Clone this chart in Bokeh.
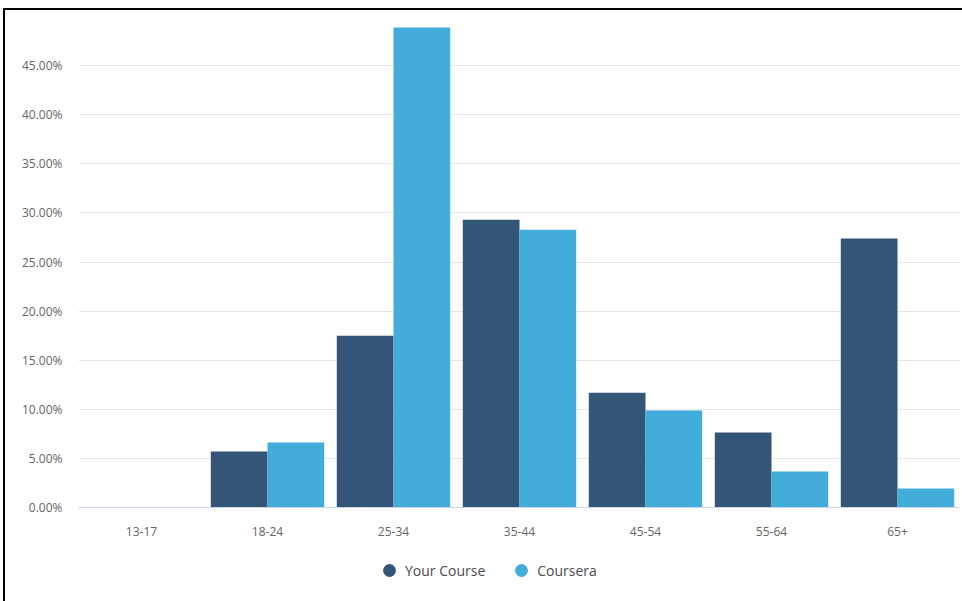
from bokeh.plotting import figure
from bokeh.layouts import column
from bokeh.models import ColumnDataSource, FactorRange, Range1d, FixedTicker, PrintfTickFormatter, Legend, LegendItem
from bokeh.transform import dodge
from bokeh.embed import file_html
from bokeh.resources import INLINE

categories = ["13-17", "18-24", "25-34", "35-44", "45-54", "55-64", "65+"]
your_course = [0.0, 5.7, 17.5, 29.3, 11.7, 7.64, 27.4]
coursera = [0.0, 6.62, 48.9, 28.3, 9.88, 3.67, 1.93]
y_ticks = [0, 5, 10, 15, 20, 25, 30, 35, 40, 45]
series_names = ["Your Course", "Coursera"]
colors = ["#335577", "#42addb"]

src = ColumnDataSource(dict(cat=categories, yc=your_course, cs=coursera))

p = figure(x_range=FactorRange(*categories, range_padding=0), y_range=Range1d(0, 49.5),
           width=957, height=535, output_backend="svg", toolbar_location=None,
           min_border_left=73, min_border_right=2, min_border_top=11, min_border_bottom=38)

p.vbar(x=dodge("cat", -0.225, range=p.x_range), top="yc", width=0.45, source=src,
       fill_color=colors[0], line_color=None)
p.vbar(x=dodge("cat", 0.225, range=p.x_range), top="cs", width=0.45, source=src,
       fill_color=colors[1], line_color=None)

p.outline_line_color = None
p.background_fill_color = "white"
p.border_fill_color = "white"

p.xgrid.grid_line_color = None
p.ygrid.grid_line_color = "#e6e6e6"
p.ygrid.ticker = FixedTicker(ticks=y_ticks)

p.yaxis.ticker = FixedTicker(ticks=y_ticks)
p.yaxis.formatter = PrintfTickFormatter(format="%.2f%%")
p.yaxis.axis_line_color = None
p.yaxis.major_tick_line_color = None
p.yaxis.minor_tick_line_color = None
p.yaxis.major_label_standoff = 10

p.xaxis.axis_line_color = "#ccd6eb"
p.xaxis.major_tick_line_color = None
p.xaxis.minor_tick_line_color = None
p.xaxis.major_label_standoff = 13

for ax in (p.xaxis, p.yaxis):
    ax.major_label_text_font = "Open Sans"
    ax.major_label_text_font_size = "12px"
    ax.major_label_text_color = "#666666"

# legend strip below the chart
lg = figure(width=957, height=56, x_range=Range1d(0, 1), y_range=Range1d(0, 1),
            output_backend="svg", toolbar_location=None,
            min_border_left=0, min_border_right=0, min_border_top=0, min_border_bottom=0)
lg.axis.visible = False
lg.grid.visible = False
lg.outline_line_color = None
lg.background_fill_color = "white"
lg.border_fill_color = "white"

nan = float("nan")
d1 = lg.scatter(x=[nan], y=[nan], marker="circle", size=13, fill_color=colors[0], line_color=None)
d2 = lg.scatter(x=[nan], y=[nan], marker="circle", size=13, fill_color=colors[1], line_color=None)

legend = Legend(items=[LegendItem(label=series_names[0], renderers=[d1]),
                       LegendItem(label=series_names[1], renderers=[d2])],
                orientation="horizontal", location=(295, 15))
legend.label_text_font = "Open Sans"
legend.label_text_font_size = "14px"
legend.label_text_color = "#4d4d4d"
legend.border_line_color = None
legend.background_fill_alpha = 0
legend.glyph_width = 32
legend.glyph_height = 32
legend.spacing = 20
legend.label_standoff = 0
legend.padding = 0
legend.margin = 0
lg.add_layout(legend)

layout = column(p, lg, spacing=0,
                styles={"border-top": "2px solid black", "border-left": "2px solid black",
                        "margin-top": "8px", "margin-left": "3px"})

open("out.html", "w").write(file_html(layout, INLINE))
